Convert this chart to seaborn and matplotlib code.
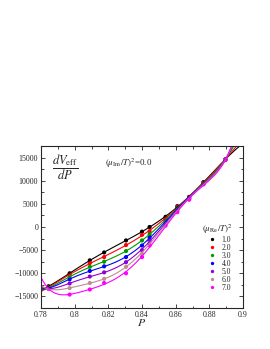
import numpy as np
import pandas as pd
import matplotlib
matplotlib.use("Agg")
import matplotlib.pyplot as plt
from matplotlib.ticker import MultipleLocator, FormatStrFormatter
import seaborn as sns

# values
P = [0.7845, 0.797, 0.809, 0.8175, 0.8305, 0.840, 0.8445, 0.854, 0.861, 0.868, 0.8765, 0.8895]
mu2_labels = ["1.0", "2.0", "3.0", "4.0", "5.0", "6.0", "7.0"]
mu1 = [-12800, -10000, -7200, -5500, -2900, -1000, 0, 2200, 4500, 6500, 9700, 14600]
mu2 = [-13000, -10300, -7800, -6500, -3900, -1700, -900, 1900, 4300, 6400, 9600, 14600]
mu3 = [-13100, -10800, -8600, -7500, -5200, -2900, -1600, 1600, 4100, 6300, 9500, 14550]
mu4 = [-13200, -11300, -9500, -8500, -6500, -4000, -2300, 1300, 3900, 6200, 9400, 14550]
mu5 = [-13300, -12200, -10700, -9800, -7600, -5000, -3000, 1000, 3700, 6100, 9350, 14500]
mu6 = [-13400, -13200, -12100, -11200, -8600, -5800, -3500, 700, 3500, 6000, 9300, 14500]
mu7 = [-13300, -14600, -13500, -12100, -10000, -6500, -4000, 300, 3200, 5900, 9200, 14450]
colors = ["black", "red", "#009a00", "blue", "#9400d3", "#bc8f8f", "#ff00ff"]

series = [mu1, mu2, mu3, mu4, mu5, mu6, mu7]
df = pd.concat([pd.DataFrame({"P": P, "dV": s, "mu": lab})
                for s, lab in zip(series, mu2_labels)], ignore_index=True)

sns.set_style("ticks")
plt.rcParams["font.family"] = ["Liberation Serif", "DejaVu Serif"]
plt.rcParams["mathtext.fontset"] = "stix"

fig = plt.figure(figsize=(2.7, 3.49), dpi=100)
ax = fig.add_axes([41 / 270, 1 - 308 / 349, 202 / 270, 162 / 349])
ax.set_xlim(0.78, 0.9)
ax.set_ylim(-17500, 17500)

# smooth fit lines, extended over the whole axis
for lab, c in zip(mu2_labels, colors):
    sub = df[df["mu"] == lab]
    sns.regplot(data=sub, x="P", y="dV", order=6, ci=None, scatter=False,
                truncate=False, ax=ax, line_kws={"color": c, "lw": 0.8})

sns.scatterplot(data=df, x="P", y="dV", hue="mu", palette=colors, s=9,
                edgecolor="none", ax=ax, legend=True)

ax.set_xlim(0.78, 0.9)
ax.set_ylim(-17500, 17500)
ax.xaxis.set_major_locator(MultipleLocator(0.02))
ax.xaxis.set_minor_locator(MultipleLocator(0.01))
ax.xaxis.set_major_formatter(FormatStrFormatter("%g"))
ax.yaxis.set_major_locator(MultipleLocator(5000))
ax.yaxis.set_minor_locator(MultipleLocator(2500))
ax.tick_params(which="both", direction="in", top=True, right=True,
               labelsize=5.7, width=0.6, pad=2)
ax.tick_params(which="major", length=3)
ax.tick_params(which="minor", length=1.8)
for sp in ax.spines.values():
    sp.set_linewidth(0.8)

ax.set_xlabel("$P$", fontsize=8.5, labelpad=-1)
ax.set_ylabel("")

ax.text(0.12, 0.87, r"$\dfrac{dV_{\rm eff}}{dP}$", transform=ax.transAxes,
        fontsize=9, ha="center", va="center")
ax.text(0.315, 0.895, r"$(\mu_{\rm Im}/T)^2$=0.0", transform=ax.transAxes,
        fontsize=6.5, ha="left", va="center")

leg = ax.legend(loc="upper left", bbox_to_anchor=(0.78, 0.55), frameon=False,
                fontsize=5.5, title=r"$(\mu_{\rm Re}/T)^2$", title_fontsize=6.5,
                handletextpad=0.2, labelspacing=0.0, borderpad=0,
                markerscale=0.8)

fig.savefig("out.png", dpi=100)
